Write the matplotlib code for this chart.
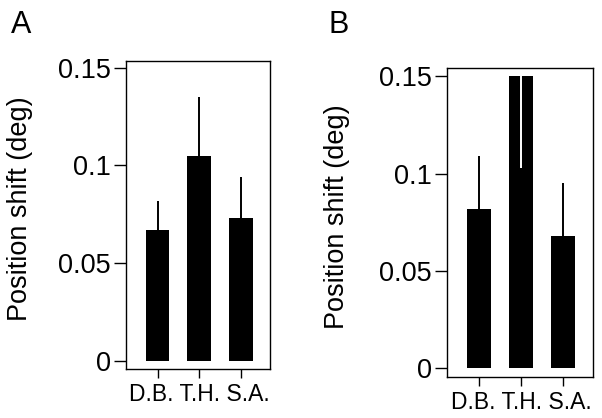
import matplotlib
matplotlib.use('Agg')
import matplotlib.pyplot as plt

plt.rcParams['font.family'] = ['Liberation Sans', 'DejaVu Sans']

# ── Data ──────────────────────────────────────────────────────────
subjects = ['D.B.', 'T.H.', 'S.A.']
yticks = [0, 0.05, 0.1, 0.15]
ytick_labels = ['0', '0.05', '0.1', '0.15']

a_vals = [0.067, 0.105, 0.073]
a_err = [0.015, 0.030, 0.021]

# panel B: T.H. bar is capped at 0.15, its error drawn downward in white
b_vals = [0.082, 0.15, 0.068]
b_err = [0.027, 0.047, 0.027]
b_capped = [False, True, False]

fig = plt.figure(figsize=(6.02, 4.18), dpi=100)
ax_a = fig.add_axes([0.2093, 0.1172, 0.2392, 0.7368])
ax_b = fig.add_axes([0.7430, 0.0988, 0.2415, 0.7378])

x = [1, 2, 3]


def draw_panel(ax, vals, errs, capped, ylim, label_x):
    ax.bar(x, vals, width=0.57, color='black', zorder=2)
    for xi, v, e, c in zip(x, vals, errs, capped):
        if c:
            ax.vlines(xi, v - e, v, color='white', lw=1.4, zorder=3)
        else:
            ax.vlines(xi, v, v + e, color='black', lw=1.4, zorder=3)
    ax.set_xlim(0.24, 3.70)
    ax.set_ylim(*ylim)
    ax.set_xticks(x)
    ax.set_xticklabels([])
    # the subject names sit as one spread-out line under the axis
    ax.annotate(' '.join(subjects), xy=(x[1], 0), xycoords=('data', 'axes fraction'),
                xytext=(0, -10), textcoords='offset points',
                ha='center', va='top', fontsize=16.5)
    ax.set_yticks(yticks)
    ax.set_yticklabels(ytick_labels, fontsize=19.5)
    ax.tick_params(axis='y', length=9, width=1, pad=2)
    ax.tick_params(axis='x', length=6.5, width=1)
    for sp in ax.spines.values():
        sp.set_linewidth(1)
    ax.set_ylabel('Position shift (deg)', fontsize=19.5)
    ax.yaxis.set_label_coords(label_x, 0.52)


draw_panel(ax_a, a_vals, a_err, [False, False, False], (-0.0042, 0.1534), -0.646)
draw_panel(ax_b, b_vals, b_err, b_capped, (-0.0043, 0.154), -0.669)

fig.text(0.018, 0.921, 'A', fontsize=22, ha='left', va='baseline')
fig.text(0.545, 0.921, 'B', fontsize=22, ha='left', va='baseline')

plt.savefig('out.png', dpi=100)
plt.close()
